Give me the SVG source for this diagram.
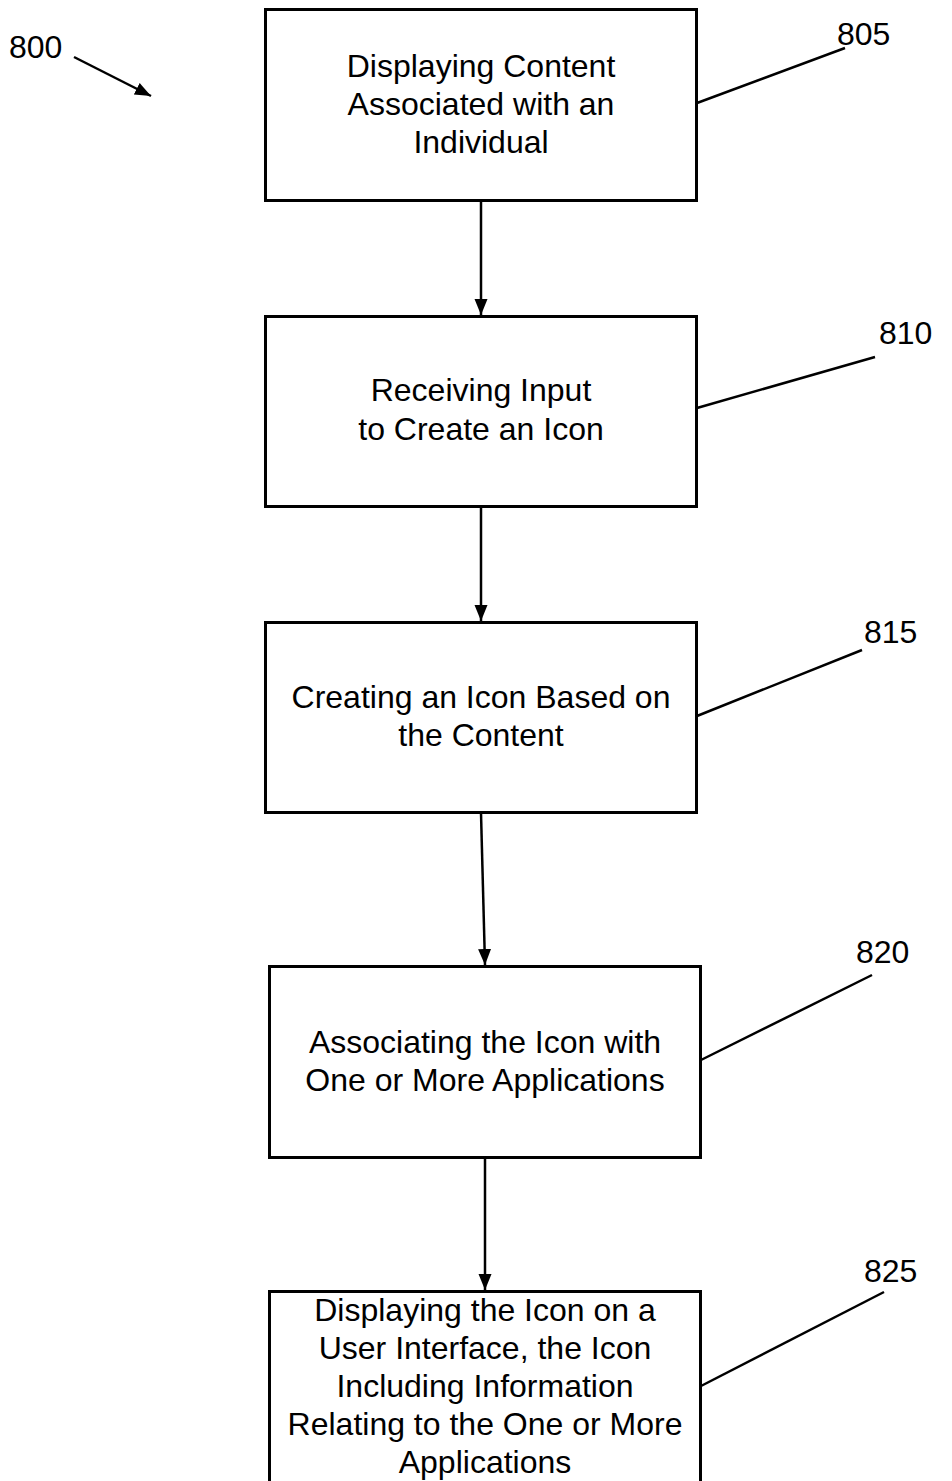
<svg xmlns="http://www.w3.org/2000/svg" width="952" height="1481" viewBox="0 0 952 1481">
<style>
.box{fill:#fff;stroke:#000;stroke-width:3}
.t{font-family:"Liberation Sans",Arial,sans-serif;font-size:32px;fill:#000;text-anchor:middle}
.l{font-family:"Liberation Sans",Arial,sans-serif;font-size:32px;fill:#000}
.c{stroke:#000;stroke-width:2.5;fill:none}
</style>
<defs>
<marker id="ah" markerUnits="userSpaceOnUse" markerWidth="18" markerHeight="18" viewBox="0 0 18 18" refX="16" refY="9" orient="auto">
<path d="M0,2.5 L16,9 L0,15.5 Z" fill="#000"/>
</marker>
</defs>
<rect width="952" height="1481" fill="#fff"/>
<g id="connectors">
<line class="c" x1="481" y1="201" x2="481" y2="315" marker-end="url(#ah)"/>
<line class="c" x1="481" y1="507" x2="481" y2="621" marker-end="url(#ah)"/>
<line class="c" x1="481" y1="813" x2="485" y2="965" marker-end="url(#ah)"/>
<line class="c" x1="485" y1="1158" x2="485" y2="1290" marker-end="url(#ah)"/>
<line class="c" x1="74" y1="57" x2="151" y2="96" marker-end="url(#ah)"/>
<line class="c" x1="697" y1="103" x2="845" y2="48"/>
<line class="c" x1="697" y1="408" x2="875" y2="357"/>
<line class="c" x1="697" y1="716" x2="862" y2="650"/>
<line class="c" x1="701" y1="1060" x2="872" y2="975"/>
<line class="c" x1="701" y1="1386" x2="884" y2="1292"/>
</g>
<g id="label800"><text class="l" x="9" y="58">800</text></g>
<g id="n805">
<rect class="box" x="265.5" y="9.5" width="431" height="191"/>
<text class="t" x="481" y="77">Displaying Content</text>
<text class="t" x="481" y="115">Associated with an</text>
<text class="t" x="481" y="153">Individual</text>
<text class="l" x="837" y="45">805</text>
</g>
<g id="n810">
<rect class="box" x="265.5" y="316.5" width="431" height="190"/>
<text class="t" x="481" y="401">Receiving Input</text>
<text class="t" x="481" y="440">to Create an Icon</text>
<text class="l" x="879" y="344">810</text>
</g>
<g id="n815">
<rect class="box" x="265.5" y="622.5" width="431" height="190"/>
<text class="t" x="481" y="708">Creating an Icon Based on</text>
<text class="t" x="481" y="746">the Content</text>
<text class="l" x="864" y="643">815</text>
</g>
<g id="n820">
<rect class="box" x="269.5" y="966.5" width="431" height="191"/>
<text class="t" x="485" y="1053">Associating the Icon with</text>
<text class="t" x="485" y="1091">One or More Applications</text>
<text class="l" x="856" y="963">820</text>
</g>
<g id="n825">
<rect class="box" x="269.5" y="1291.5" width="431" height="200"/>
<text class="t" x="485" y="1321">Displaying the Icon on a</text>
<text class="t" x="485" y="1359">User Interface, the Icon</text>
<text class="t" x="485" y="1397">Including Information</text>
<text class="t" x="485" y="1435">Relating to the One or More</text>
<text class="t" x="485" y="1473">Applications</text>
<text class="l" x="864" y="1282">825</text>
</g>
</svg>
